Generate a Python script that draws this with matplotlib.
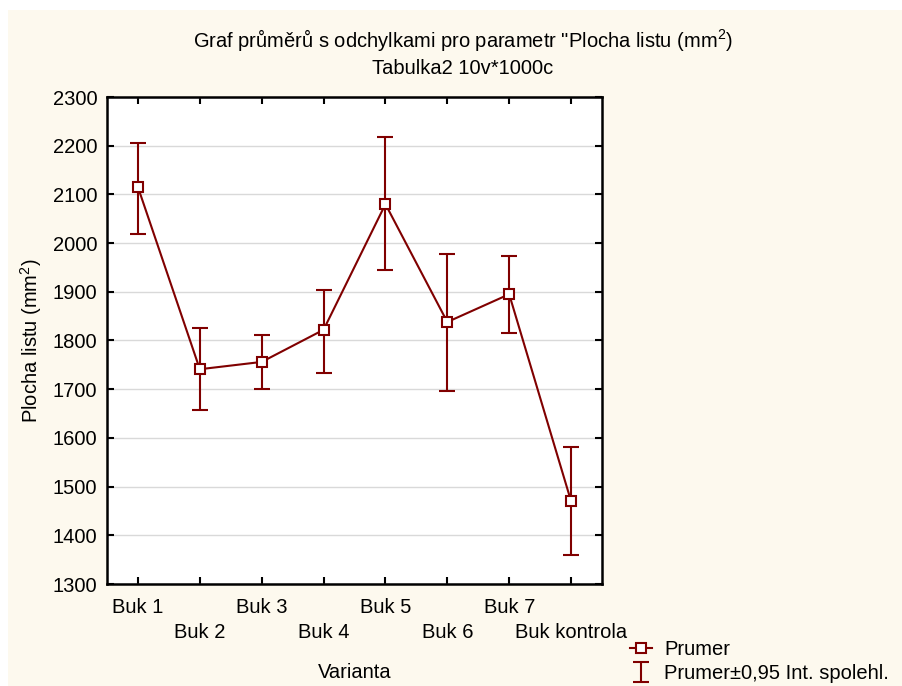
import matplotlib
matplotlib.use("Agg")
import matplotlib.pyplot as plt
from matplotlib.patches import Rectangle
import numpy as np

plt.rcParams['font.family'] = ['Liberation Sans', 'DejaVu Sans']
plt.rcParams['mathtext.fontset'] = 'custom'
plt.rcParams['mathtext.rm'] = 'Liberation Sans'
plt.rcParams['mathtext.it'] = 'Liberation Sans'

categories = ["Buk 1", "Buk 2", "Buk 3", "Buk 4", "Buk 5", "Buk 6", "Buk 7", "Buk kontrola"]
means = [2115, 1741, 1756, 1822, 2080, 1838, 1895, 1470]
upper = [2206, 1826, 1812, 1904, 2218, 1978, 1973, 1581]
lower = [2019, 1657, 1700, 1733, 1945, 1696, 1815, 1360]
yticks = [1300, 1400, 1500, 1600, 1700, 1800, 1900, 2000, 2100, 2200, 2300]

FS = 14.5
color = '#800000'
fig = plt.figure(figsize=(9.02, 6.86), dpi=100)
fig.patch.set_facecolor('white')
fig.patches.append(Rectangle((8/902, 0), 1 - 8/902, 1 - 10/686, transform=fig.transFigure,
                             facecolor='#FDF9EE', edgecolor='none', zorder=-10))

ax = fig.add_axes([107/902, 1 - 584/686, 495/902, 487/686])
ax.set_facecolor('white')
x = np.arange(len(categories))
m = np.array(means)
yerr = np.array([m - np.array(lower), np.array(upper) - m])

ax.errorbar(x, m, yerr=yerr, fmt='none', ecolor=color, elinewidth=1.5, capsize=6,
            capthick=1.5, label='Prumer±0,95 Int. spolehl.', zorder=3)
ax.plot(x, m, color=color, lw=1.5, marker='s', ms=7, mfc='white', mec=color, mew=1.5,
        label='Prumer', zorder=4)

ax.set_xlim(-0.5, 7.5)
ax.set_ylim(1300, 2300)
ax.set_yticks(yticks)
ax.set_yticklabels([str(v) for v in yticks], fontsize=FS)
ax.grid(axis='y', color='#d9d9d9', lw=1)
ax.set_axisbelow(True)

ax.set_xticks(x[0::2], [categories[i] for i in range(0, 8, 2)], fontsize=FS)
ax.set_xticks(x[1::2], [categories[i] for i in range(1, 8, 2)], minor=True, fontsize=FS)
ax.tick_params(axis='both', which='both', direction='in', length=5, width=1.5,
               top=True, right=True, color='black')
ax.tick_params(axis='x', which='major', pad=10)
ax.tick_params(axis='x', which='minor', pad=28)
ax.tick_params(axis='y', pad=7)
for s in ax.spines.values():
    s.set_linewidth(1.8)

ax.set_ylabel('Plocha listu (mm$^2$)', fontsize=FS, labelpad=6)
ax.set_xlabel('Varianta', fontsize=FS)
ax.xaxis.set_label_coords((355 - 107) / 495, -(663 - 584) / 487)

fig.text(463/902, 1 - 40/686, 'Graf průměrů s odchylkami pro parametr "Plocha listu (mm$^2$)',
         ha='center', va='center', fontsize=FS)
fig.text(463/902, 1 - 68/686, 'Tabulka2 10v*1000c', ha='center', va='center', fontsize=FS)

h, l = ax.get_legend_handles_labels()
order = [l.index('Prumer'), l.index('Prumer±0,95 Int. spolehl.')]
fig.legend([h[i] for i in order], [l[i] for i in order], loc='upper left',
           bbox_to_anchor=(630/902, 1 - 640/686), frameon=False, fontsize=FS,
           handlelength=1.1, handletextpad=0.6, labelspacing=0.25, borderaxespad=0.0,
           borderpad=0.0)

fig.savefig('out.png', dpi=100, facecolor=fig.get_facecolor())
